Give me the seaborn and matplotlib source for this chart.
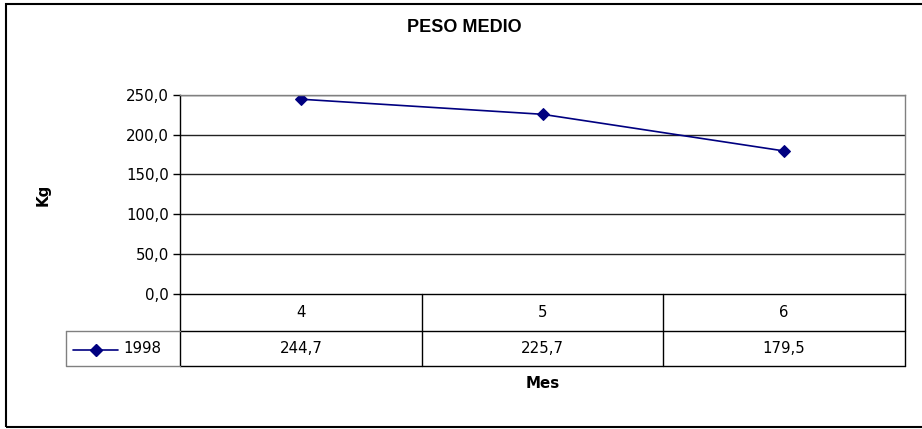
import matplotlib
matplotlib.use("Agg")
import matplotlib.pyplot as plt
import matplotlib.transforms as mtransforms
from matplotlib.lines import Line2D
from matplotlib.patches import Rectangle
import seaborn as sns
import pandas as pd

# ---- data ----
months = ["4", "5", "6"]
values = [244.7, 225.7, 179.5]
value_labels = ["244,7", "225,7", "179,5"]
series_name = "1998"
yticks = [0, 50, 100, 150, 200, 250]
ytick_labels = ["0,0", "50,0", "100,0", "150,0", "200,0", "250,0"]
title = "PESO MEDIO"
xlabel = "Mes"
ylabel = "Kg"

sns.set_theme(style="white")
plt.rcParams["font.family"] = ["DejaVu Sans"]
plt.rcParams["text.color"] = "black"
plt.rcParams["ytick.color"] = "black"
plt.rcParams["ytick.labelcolor"] = "black"

W, H = 922, 429
DPI = 100
fig = plt.figure(figsize=(W / DPI, H / DPI), dpi=DPI)

def fx(px):
    return px / W

def fy(py):
    return 1 - py / H

FS = 10.8

# plot area in pixels
L, R, T, B = 180, 905, 95, 293.5
ax = fig.add_axes([fx(L), fy(B), fx(R - L), (B - T) / H])

df = pd.DataFrame({"Mes": months, "Peso": values})
navy = "#000080"
sns.lineplot(data=df, x="Mes", y="Peso", ax=ax, color=navy, lw=1.2,
             marker="D", markersize=6, markeredgecolor=navy,
             markerfacecolor=navy, sort=False)

ax.set_xlim(-0.5, len(months) - 0.5)
ax.set_ylim(0, 250)
ax.set_yticks(yticks)
ax.set_yticklabels(ytick_labels, fontsize=FS, color="black")
ax.set_xticks([])
ax.set_xlabel("")
ax.set_ylabel("")
ax.tick_params(axis="y", direction="out", length=5, width=1, color="black",
               pad=3, left=True)
for y in yticks[1:]:
    ax.axhline(y, color="#222222", lw=1, zorder=0)
ax.spines["left"].set_color("black")
ax.spines["bottom"].set_color("black")
ax.spines["top"].set_color("#808080")
ax.spines["right"].set_color("#808080")
for s in ax.spines.values():
    s.set_linewidth(1)
ax.set_facecolor("white")

# ---- data table below the plot ----
blend = mtransforms.blended_transform_factory(ax.transData, fig.transFigure)
row1_bot = 331
row2_bot = 366
leg_left = 66

for xb in [i - 0.5 for i in range(len(months) + 1)]:
    fig.add_artist(Line2D([xb, xb], [fy(B), fy(row2_bot)], transform=blend,
                          color="black", lw=1))
fig.add_artist(Line2D([fx(L), fx(R)], [fy(row1_bot), fy(row1_bot)],
                      transform=fig.transFigure, color="black", lw=1))
fig.add_artist(Line2D([fx(L), fx(R)], [fy(row2_bot), fy(row2_bot)],
                      transform=fig.transFigure, color="black", lw=1))
fig.add_artist(Line2D([fx(leg_left), fx(L)], [fy(row1_bot), fy(row1_bot)],
                      transform=fig.transFigure, color="#808080", lw=1))
fig.add_artist(Line2D([fx(leg_left), fx(leg_left), fx(L)],
                      [fy(row1_bot), fy(row2_bot), fy(row2_bot)],
                      transform=fig.transFigure, color="#808080", lw=1))

ymid2 = (row1_bot + row2_bot) / 2
fig.add_artist(Line2D([fx(73), fx(118)], [fy(ymid2 + 1), fy(ymid2 + 1)],
                      transform=fig.transFigure, color=navy, lw=1.2))
fig.add_artist(Line2D([fx(95.5)], [fy(ymid2 + 1)], transform=fig.transFigure,
                      color=navy, marker="D", markersize=6, lw=0))
fig.text(fx(123), fy(ymid2), series_name, fontsize=FS, ha="left", va="center")

ymid1 = (B + row1_bot) / 2
for i, (m, v) in enumerate(zip(months, value_labels)):
    fig.text(i, fy(ymid1), m, transform=blend, fontsize=FS,
             ha="center", va="center")
    fig.text(i, fy(ymid2), v, transform=blend, fontsize=FS,
             ha="center", va="center")

fig.text(fx((L + R) / 2), fy(383), xlabel, fontsize=FS, fontweight="bold",
         ha="center", va="center")
fig.text(fx(43), fy(195), ylabel, fontsize=FS, fontweight="bold",
         rotation=90, ha="center", va="center")
fig.text(fx(464), fy(28), title, fontsize=13, fontweight="bold",
         family=["Liberation Sans", "DejaVu Sans"], ha="center", va="center")

# outer chart frame (right edge lies beyond the image)
fig.add_artist(Rectangle((fx(6), fy(427)), fx(960 - 6), (427 - 4) / H,
                         transform=fig.transFigure, fill=False,
                         edgecolor="black", lw=1.5, clip_on=False))

fig.savefig("out.png", dpi=DPI, facecolor="white")
